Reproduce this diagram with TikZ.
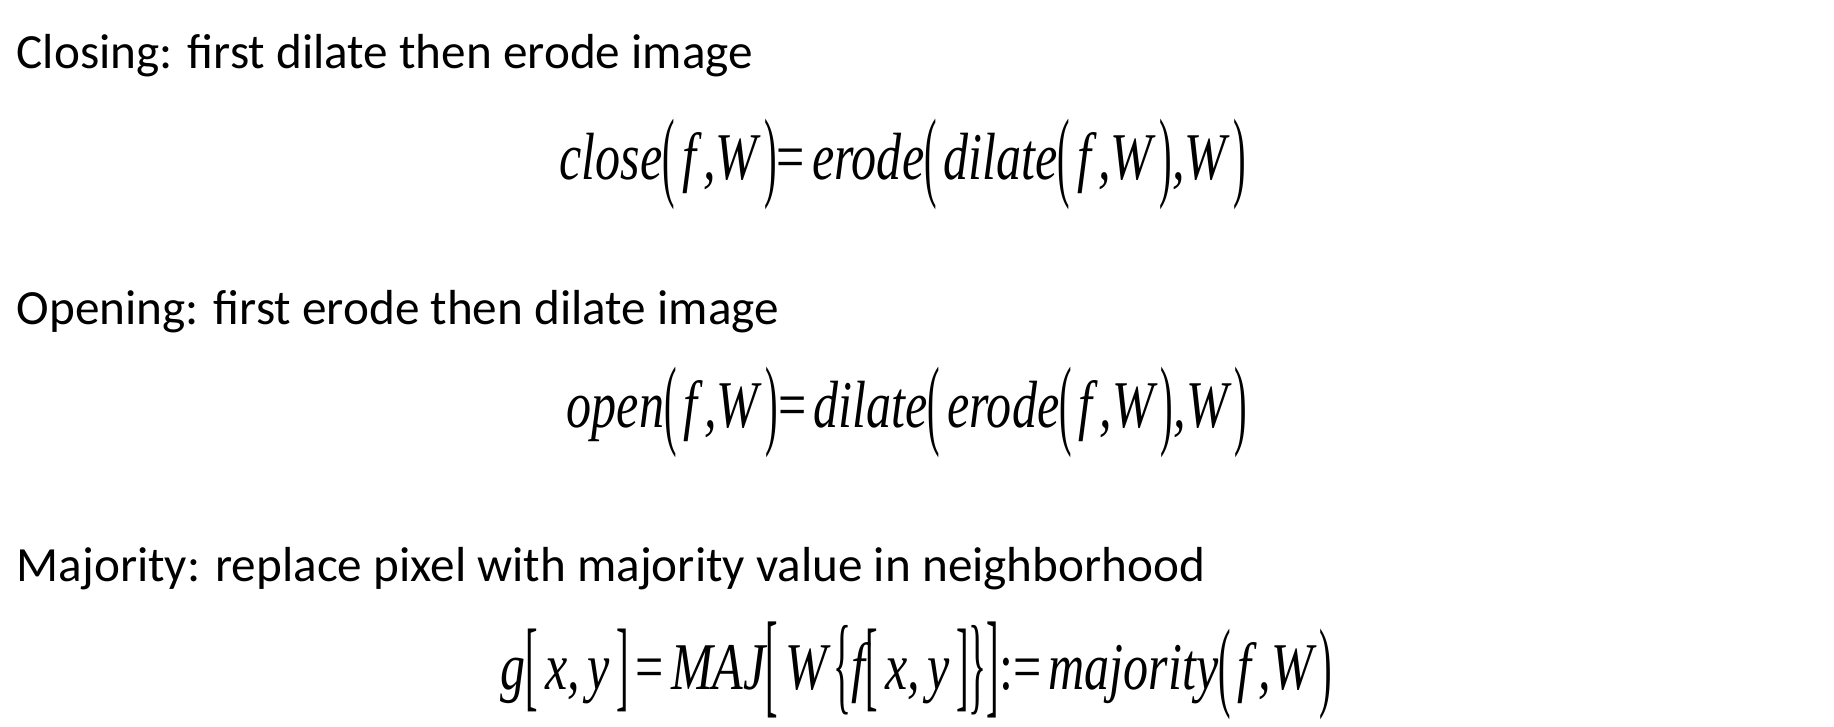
\documentclass[tikz,border=0pt]{standalone}
\usepackage{fontspec}
\setmainfont{Carlito}
\newfontfamily\eqfont{Liberation Serif}
\usepackage{graphicx}

% stretched delimiters, as in the equation editor
\newcommand{\delim}[3]{\raisebox{#2}{\scalebox{0.75}[#1]{\upshape #3}}}
\newcommand{\tall}[1]{\delim{1.5}{-0.32ex}{#1}}
\newcommand{\tallM}[1]{\delim{1.62}{-0.38ex}{#1}}
\newcommand{\tallB}[1]{\delim{1.74}{-0.45ex}{#1}}
\newcommand{\gap}{\kern0.14em}
\newcommand{\squeeze}[1]{\scalebox{0.75}[1]{#1}}

\tikzset{
  heading/.style={anchor=base west, inner sep=0pt, font=\fontsize{14}{17}\selectfont},
  formula/.style={anchor=base west, inner sep=0pt, font=\fontsize{19}{22}\selectfont\eqfont\itshape},
}

\begin{document}
\begin{tikzpicture}
  \useasboundingbox (0,0) rectangle (18.34,7.26);

  % -- Closing --
  \node[heading] (closeTxt) at (0.16,6.58) {Closing: first dilate then erode image};
  \node[formula] (closeEq) at (5.59,5.47) {\squeeze{close\tall{(}\gap f\gap,W\gap\tall{)}{\upshape =}\gap erode\tall{(}\gap dilate\tall{(}\gap f\gap,W\gap\tall{)},W\gap\tall{)}}};

  % -- Opening --
  \node[heading] (openTxt) at (0.16,4.02) {Opening: first erode then dilate image};
  \node[formula] (openEq) at (5.66,2.99) {\squeeze{open\tall{(}\gap f\gap,W\gap\tall{)}{\upshape =}\gap dilate\tall{(}\gap erode\tall{(}\gap f\gap,W\gap\tall{)},W\gap\tall{)}}};

  % -- Majority --
  \node[heading] (majTxt) at (0.16,1.45) {Majority: replace pixel with majority value in neighborhood};
  \node[formula] (majEq) at (5.00,0.37) {\squeeze{g\tall{[}\gap x,\gap y\gap\tall{]}\gap{\upshape =}\gap MAJ\tallB{[}\gap W\gap\tallM{\{}f\tall{[}\gap x,\gap y\gap\tall{]}\tallM{\}}\tallB{]}{\upshape :=}\gap majority\tall{(}\gap f\gap,W\gap\tall{)}}};
\end{tikzpicture}
\end{document}
